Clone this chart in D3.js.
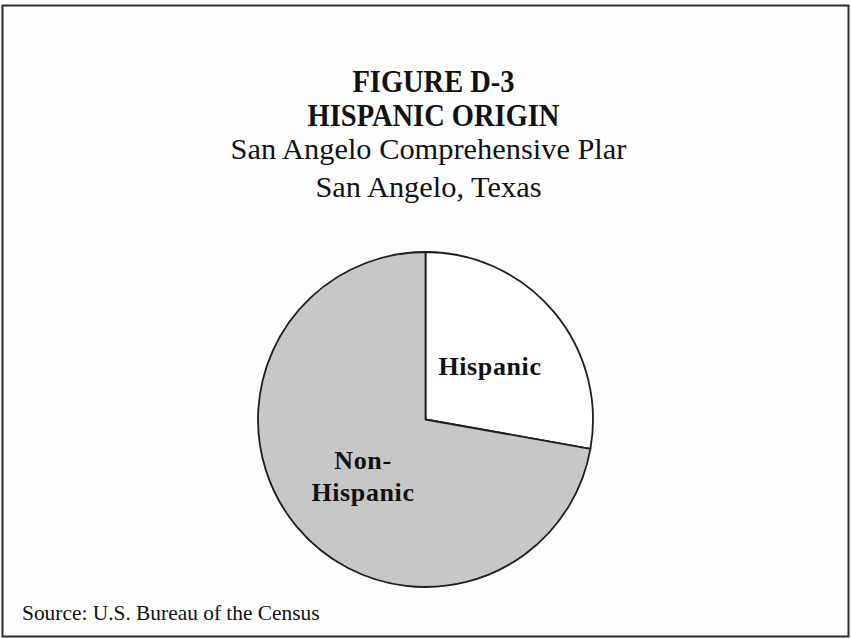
<!DOCTYPE html>
<html>
<head>
<meta charset="utf-8">
<script src="https://cdn.jsdelivr.net/npm/d3@7"></script>
<style>
  html, body { margin: 0; padding: 0; background: #ffffff; }
  svg { display: block; }
</style>
</head>
<body>
<svg id="chart" width="851" height="639"></svg>
<script>
// Population by Hispanic origin, share of total (%)
const categories = ["Hispanic", "Non-Hispanic"];
const shares = [27.8, 72.2];
const sliceColors = ["#ffffff", "#c7c7c7"];

const titleLines = ["FIGURE D-3", "HISPANIC ORIGIN"];
const subtitleLines = ["San Angelo Comprehensive Plar", "San Angelo, Texas"];
const sourceText = "Source: U.S. Bureau of the Census";

const W = 851, H = 639;
const svg = d3.select("#chart");
const serif = "'Liberation Serif', 'Times New Roman', serif";

// outer frame
svg.append("rect")
  .attr("x", 2.5).attr("y", 5.5)
  .attr("width", 846).attr("height", 631)
  .attr("fill", "#fefefe")
  .attr("stroke", "#2a2a2a")
  .attr("stroke-width", 2);

// titles
const titleY = [92, 126];
titleLines.forEach((t, i) => {
  svg.append("text")
    .attr("transform", `translate(${W / 2 + 8},${titleY[i]}) scale(1,1.1)`)
    .attr("text-anchor", "middle")
    .attr("font-family", serif)
    .attr("font-weight", "bold")
    .attr("font-size", 28.5)
    .attr("fill", "#111")
    .text(t);
});

const subY = [159, 197];
subtitleLines.forEach((t, i) => {
  svg.append("text")
    .attr("x", W / 2 + 3).attr("y", subY[i])
    .attr("text-anchor", "middle")
    .attr("font-family", serif)
    .attr("font-size", 30.4)
    .attr("fill", "#111")
    .text(t);
});

// pie
const cx = 425.5, cy = 419.5, radius = 167.5;
const pie = d3.pie().sort(null).value(d => d.value);
const arcs = pie(categories.map((c, i) => ({ name: c, value: shares[i] })));
const arc = d3.arc().innerRadius(0).outerRadius(radius);

const g = svg.append("g").attr("transform", `translate(${cx},${cy})`);
g.selectAll("path")
  .data(arcs)
  .join("path")
  .attr("d", arc)
  .attr("fill", (d, i) => sliceColors[i])
  .attr("stroke", "#1e1e1e")
  .attr("stroke-width", 1.8)
  .attr("stroke-linejoin", "round");

// slice labels
const labelSpec = [
  { lines: ["Hispanic"], x: 490, y: [375] },
  { lines: ["Non-", "Hispanic"], x: 363, y: [469, 501] }
];
labelSpec.forEach(spec => {
  spec.lines.forEach((t, j) => {
    svg.append("text")
      .attr("x", spec.x).attr("y", spec.y[j])
      .attr("text-anchor", "middle")
      .attr("font-family", serif)
      .attr("font-weight", "bold")
      .attr("font-size", 26)
      .attr("letter-spacing", 0.6)
      .attr("fill", "#111")
      .text(t);
  });
});

// source note
svg.append("text")
  .attr("x", 22).attr("y", 620)
  .attr("font-family", serif)
  .attr("font-size", 21.4)
  .attr("fill", "#111")
  .text(sourceText);
</script>
</body>
</html>
